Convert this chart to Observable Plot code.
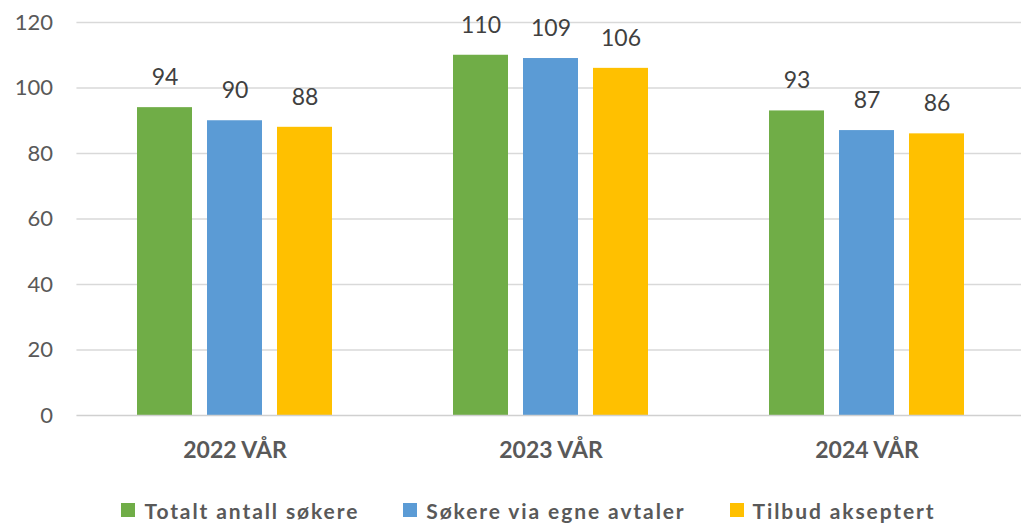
<!DOCTYPE html>
<html><head><meta charset="utf-8">
<script src="https://cdn.jsdelivr.net/npm/d3@7"></script>
<script src="https://cdn.jsdelivr.net/npm/@observablehq/plot@0.6"></script>
<style>
body{margin:0;background:#fff;font-family:Lato,sans-serif;width:1021px;overflow:hidden;}
#legend{display:flex;justify-content:center;align-items:center;height:60px;margin-top:12px;padding-left:36px;box-sizing:border-box;font-size:21px;font-weight:bold;letter-spacing:1.9px;color:#595959;}
.item{display:flex;align-items:center;margin:0 22px;}
.sw{width:14px;height:14px;margin-right:9px;}
</style></head><body><div id="chart"></div><div id="legend"></div>
<script>
const periods = ["2022 VÅR","2023 VÅR","2024 VÅR"];
const seriesNames = ["Totalt antall søkere","Søkere via egne avtaler","Tilbud akseptert"];
const totalt = [94,110,93];
const egne = [90,109,87];
const tilbud = [88,106,86];
const colors = ["#70AD47","#5B9BD5","#FFC000"];
const yTicks = [0,20,40,60,80,100,120];

const seriesValues = [totalt, egne, tilbud];
const data = periods.flatMap((p,i)=>seriesValues.map((arr,j)=>({period:p, series:seriesNames[j], value:arr[i]})));

const W = 1021, ML = 76, MR = -5;
const PI = 0.332, PO = 0.166;
const span = W - ML - MR;
const step = span / (periods.length - PI + 2 * PO);
const off = -PO * step; // facet-left to plot-left offset
const chart = Plot.plot({
  width:W, height:468,
  marginLeft:ML, marginRight:MR, marginTop:22, marginBottom:53,
  style:{fontFamily:"Lato, sans-serif", color:"#595959", overflow:"hidden", background:"#fff"},
  fx:{domain:periods, paddingInner:PI, paddingOuter:PO, label:null},
  x:{domain:seriesNames, paddingInner:0.21, paddingOuter:0.105, axis:null},
  y:{domain:[0,120], label:null},
  color:{domain:seriesNames, range:colors},
  marks:[
    Plot.axisY({ticks:yTicks.filter(d=>d>0), tickSize:-span, dx:off, text:null, stroke:"#d9d9d9", strokeWidth:1.5, strokeOpacity:1}),
    Plot.barY(data, {fx:"period", x:"series", y:"value", fill:"series"}),
    Plot.axisY({ticks:[0], tickSize:-span, dx:off, text:null, stroke:"#d0d0d0", strokeWidth:1.5, strokeOpacity:1}),
    Plot.text(data, {fx:"period", x:"series", y:"value", text:"value", dy:-30, fontSize:23, fill:"#404040"}),
    Plot.axisY({ticks:yTicks, tickSize:0, tickPadding:24, dx:off, fontSize:22, label:null}),
    Plot.axisFx({anchor:"bottom", tickSize:0, tickPadding:26, fontSize:23, fontWeight:"bold", letterSpacing:"0.6px", label:null})
  ]
});
document.getElementById("chart").appendChild(chart);

const legend = document.getElementById("legend");
seriesNames.forEach((n,i)=>{
  const it = document.createElement("div"); it.className="item";
  const sw = document.createElement("span"); sw.className="sw"; sw.style.background=colors[i];
  const t = document.createElement("span"); t.textContent=n;
  it.appendChild(sw); it.appendChild(t); legend.appendChild(it);
});
</script></body></html>
